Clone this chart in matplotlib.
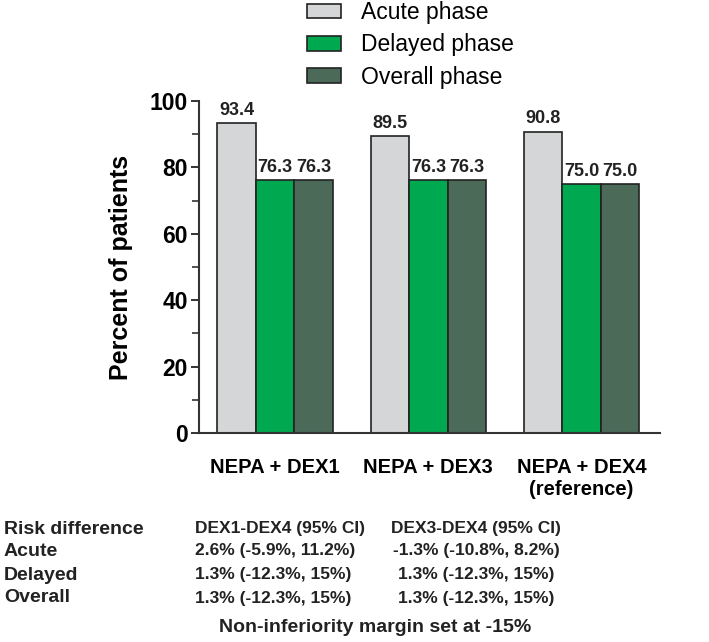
import matplotlib.pyplot as plt
import matplotlib.patches as mpatches
import numpy as np

plt.rcParams['font.family'] = 'Liberation Sans'

groups = ['NEPA + DEX1', 'NEPA + DEX3', 'NEPA + DEX4\n(reference)']
phases = ['Acute phase', 'Delayed phase', 'Overall phase']
acute = [93.4, 89.5, 90.8]
delayed = [76.3, 76.3, 75.0]
overall = [76.3, 76.3, 75.0]
colors = ['#d5d6d8', '#00a84f', '#4b6a58']

row_names = ['Risk difference', 'Acute', 'Delayed', 'Overall']
col1 = ['DEX1-DEX4 (95% CI)', '2.6% (-5.9%, 11.2%)', '1.3% (-12.3%, 15%)', '1.3% (-12.3%, 15%)']
col2 = ['DEX3-DEX4 (95% CI)', '-1.3% (-10.8%, 8.2%)', '1.3% (-12.3%, 15%)', '1.3% (-12.3%, 15%)']
note = 'Non-inferiority margin set at -15%'

W, H = 709, 642
fig = plt.figure(figsize=(7.09, 6.42), dpi=100)
ax = fig.add_axes([199/W, 1-433/H, (660-199)/W, (433-101)/H])

x = np.arange(len(groups))
bw = 0.251
for i, vals in enumerate([acute, delayed, overall]):
    bars = ax.bar(x + (i-1)*bw, vals, bw, color=colors[i], edgecolor='#222222',
                  linewidth=1.2, label=phases[i])
    for b, v in zip(bars, vals):
        ax.annotate('%.1f' % v, (b.get_x()+b.get_width()/2, v), xytext=(0, 3),
                    textcoords='offset points', ha='center', va='bottom',
                    fontsize=13, fontweight='bold', color='#222222')

ax.set_xlim(-0.497, 2.512)
ax.set_ylim(0, 100)
ax.set_yticks([0, 20, 40, 60, 80, 100])
ax.set_yticks([10, 30, 50, 70, 90], minor=True)
ax.tick_params(axis='y', which='major', length=6, width=1.4, labelsize=16.5, pad=2, color='#333333')
ax.tick_params(axis='y', which='minor', length=5, width=1.2, color='#333333')
for lab in ax.get_yticklabels():
    lab.set_fontweight('bold')
ax.set_xticks(x)
ax.set_xticklabels(groups, fontsize=14.5, fontweight='bold')
ax.tick_params(axis='x', length=0, pad=18)
ax.spines['top'].set_visible(False)
ax.spines['right'].set_visible(False)
for s in ['left', 'bottom']:
    ax.spines[s].set_linewidth(1.5)
    ax.spines[s].set_color('#333333')
ax.set_ylabel('Percent of patients', fontsize=18, fontweight='bold', labelpad=12)

handles = [mpatches.Patch(facecolor=c, edgecolor='#222222', linewidth=1.2) for c in colors]
fig.legend(handles, phases, loc='upper left', bbox_to_anchor=(307/W, 0.998),
           frameon=False, fontsize=16.5, handlelength=1.5, handleheight=0.6,
           handletextpad=0.85, labelspacing=0.4, borderpad=0, borderaxespad=0)

ys = [529, 551, 575, 598]
for y, a, b, c in zip(ys, row_names, col1, col2):
    fig.text(4/W, 1-y/H, a, fontsize=14, fontweight='bold', va='center', ha='left', color='#222222')
    fig.text(195/W, 1-y/H, b, fontsize=12.5, fontweight='bold', va='center', ha='left', color='#222222')
    fig.text(476/W, 1-y/H, c, fontsize=12.5, fontweight='bold', va='center', ha='center', color='#222222')
fig.text(375/W, 1-628/H, note, fontsize=14, fontweight='bold', va='center', ha='center', color='#222222')

fig.savefig('out.png', dpi=100)
